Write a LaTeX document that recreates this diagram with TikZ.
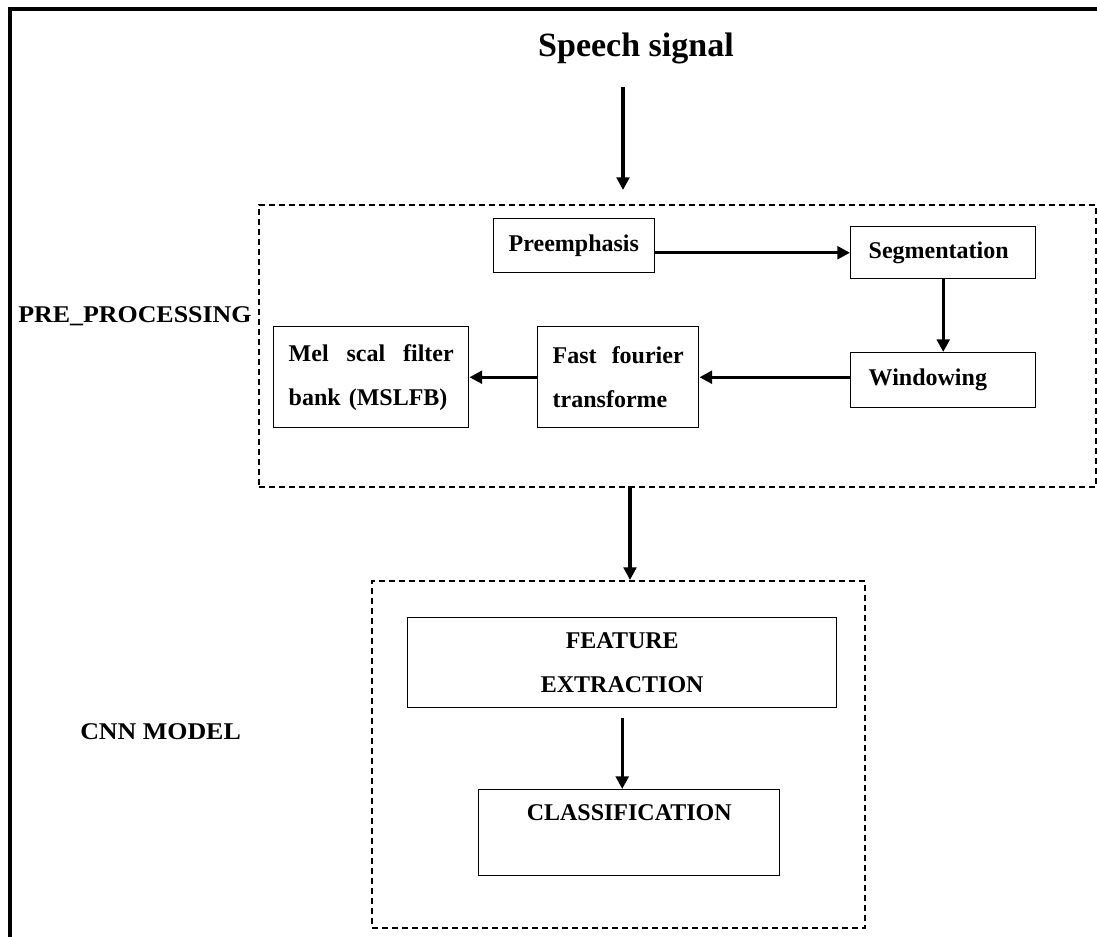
\documentclass[tikz,border=0pt]{standalone}
\usepackage{fontspec}
\setmainfont{Liberation Serif}
\usetikzlibrary{arrows.meta}
\begin{document}
\begin{tikzpicture}[x=0.75pt,y=-0.75pt,
  lbl/.style={font=\fontsize{18}{32}\selectfont\bfseries, inner sep=0pt},
  box/.style={draw, line width=1.1pt, anchor=north west, inner ysep=0pt,
              font=\fontsize{18}{33}\selectfont\bfseries},
  lbox/.style={box, align=left, inner xsep=11.25pt},
  group/.style={draw, dash pattern=on 4.5pt off 3pt, line width=1.2pt,
                anchor=north west, inner sep=0pt},
  arr/.style={line width=2.4pt, -{Triangle[length=9.5pt,width=9.5pt]}}]

\useasboundingbox (0,0) rectangle (1097,937);
\clip (0,0) rectangle (1097,937);

% page frame (top and left sides)
\draw[line width=3pt, line join=miter] (10,960) -- (10,9) -- (1120,9);

% input
\node[font=\fontsize{25.5}{30}\selectfont\bfseries, anchor=base, inner sep=0pt]
  (sig) at (636,57) {Speech signal};
\coordinate (s0) at (623,87);
\coordinate (s1) at (623,190);

% pre-processing stage
\node[group, minimum width=627.75pt, minimum height=211.5pt] (pre) at (258,204) {};
\node[lbl, anchor=base west] (prelbl) at (18,323) {\scalebox{1.08}[1]{PRE\_PROCESSING}};

\node[lbox, text width=98.25pt, minimum height=40.5pt] (pe) at (493,218) {Preemphasis};
\node[lbox, inner xsep=13.5pt, text width=111.75pt, minimum height=39pt] (seg) at (850,226) {Segmentation};
\node[lbox, inner xsep=13.5pt, text width=111.75pt, minimum height=41.25pt] (win) at (850,352) {Windowing};
\node[lbox, text width=98.25pt, minimum height=75.75pt] (fft) at (537,326)
  {Fast\hfill fourier\\transforme};
\node[lbox, text width=123.75pt, minimum height=75.75pt] (mel) at (273,326)
  {Mel\hfill scal\hfill filter\\bank (MSLFB)};

% CNN stage
\coordinate (p0) at (630,486);
\node[group, minimum width=369.75pt, minimum height=260.25pt] (cnn) at (371,580) {};
\node[lbl, anchor=base west] (cnnlbl) at (80,740) {\scalebox{1.08}[1]{CNN MODEL}};

\node[box, align=center, minimum width=321.75pt, minimum height=67.5pt] (fe) at (407,617)
  {FEATURE\\EXTRACTION};
\node[box, minimum width=225.75pt, text height=23.25pt, text depth=41.25pt] (cl) at (478,789)
  {CLASSIFICATION};

% connectors
\draw[arr] (s0) -- (s1);
\draw[arr] (pe.east |- seg.west) -- (seg.west);
\draw[arr] (seg.south) -- (win.north);
\draw[arr] (win.west |- fft.east) -- (fft.east);
\draw[arr] (fft.west) -- (mel.east);
\draw[arr] (p0) -- (p0 |- cnn.north);
\draw[arr, shorten <=7.5pt] (fe.south) -- (fe.south |- cl.north);
\end{tikzpicture}
\end{document}
